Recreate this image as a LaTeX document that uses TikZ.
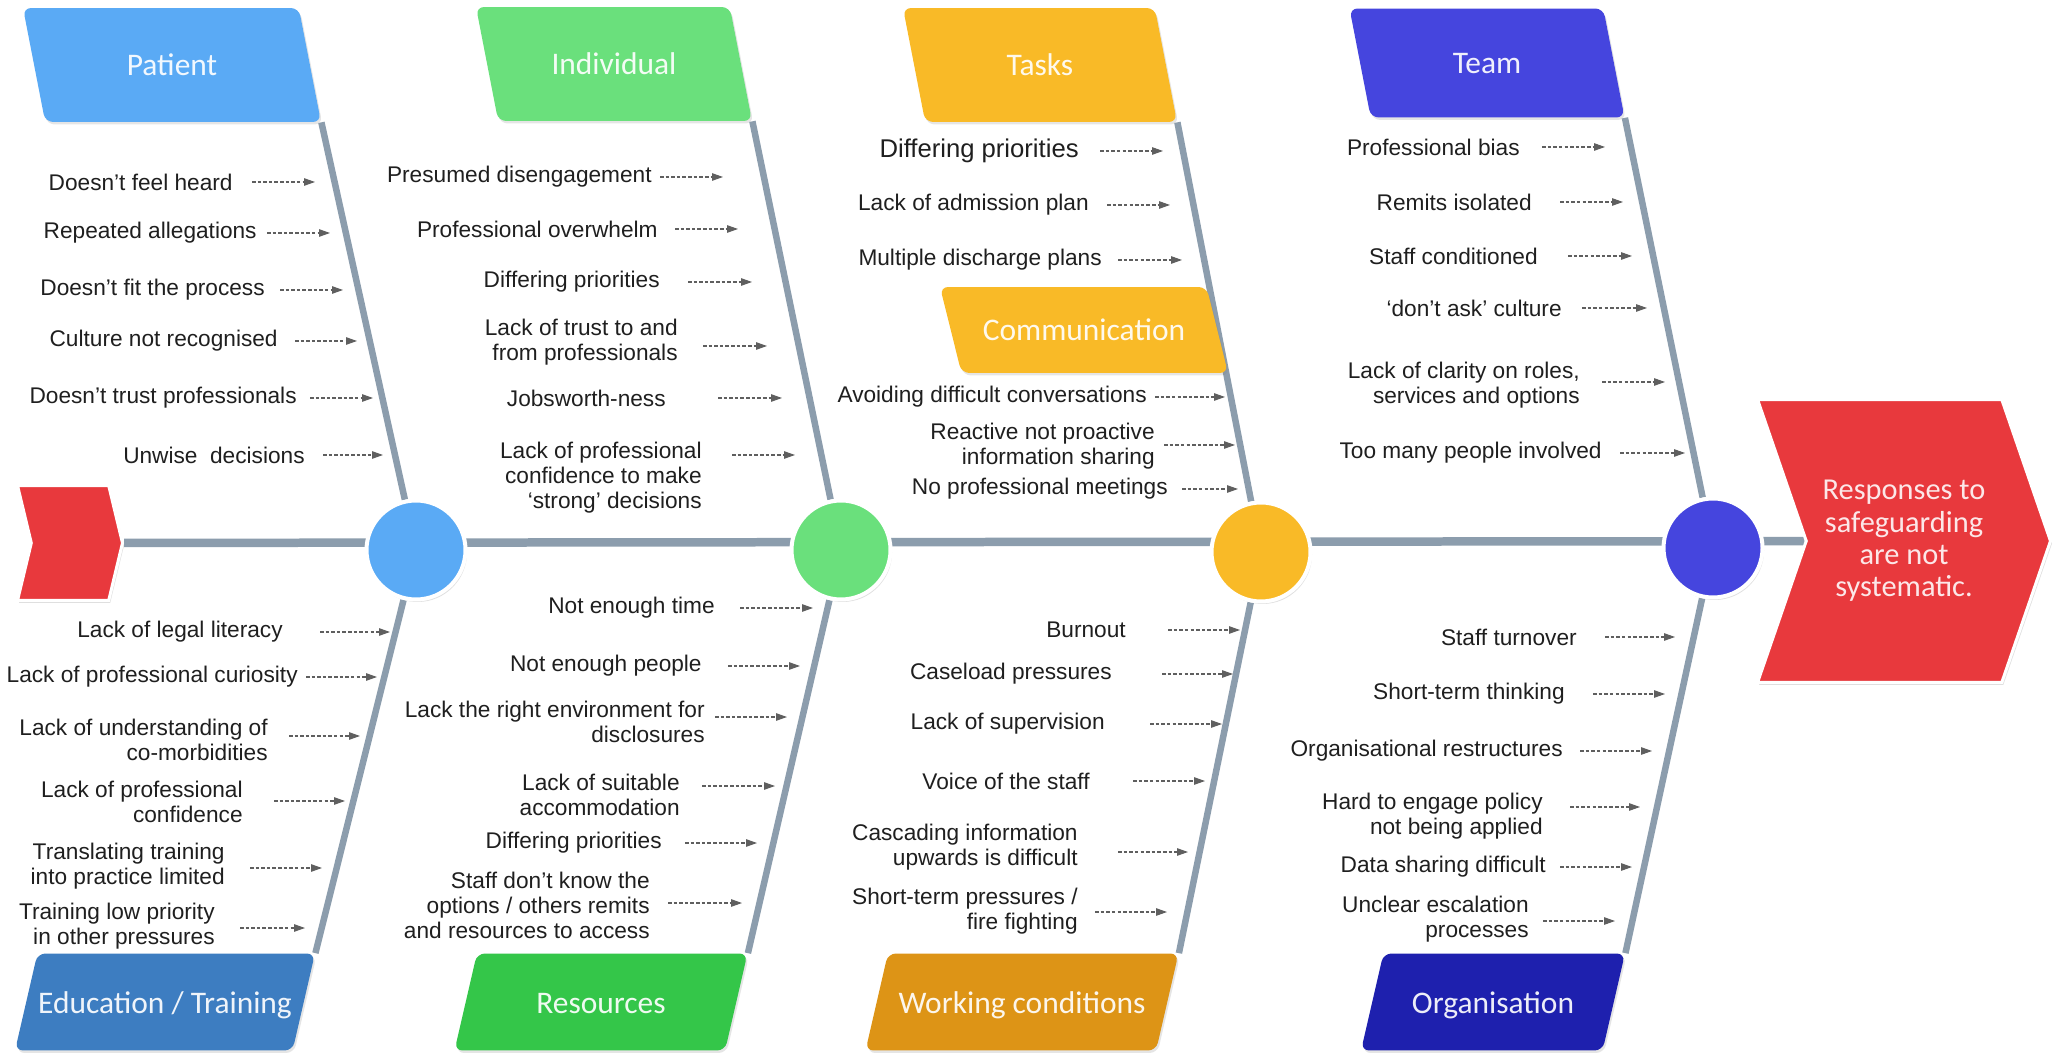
\documentclass[tikz,border=0pt]{standalone}
\usepackage{fontspec}
\setmainfont{Liberation Sans}
\newfontfamily\titlefont{Carlito}
\usetikzlibrary{arrows.meta, shapes.geometric, shapes.symbols, shadows}
\definecolor{patblue}{HTML}{5AAAF5}
\definecolor{indgreen}{HTML}{6AE07C}
\definecolor{taskamber}{HTML}{F9BA27}
\definecolor{teamblue}{HTML}{4545DE}
\definecolor{edublue}{HTML}{3D7DC1}
\definecolor{resgreen}{HTML}{34C649}
\definecolor{workorange}{HTML}{DD9416}
\definecolor{orgblue}{HTML}{1E20AE}
\definecolor{chevred}{HTML}{E8393D}
\definecolor{bonegray}{HTML}{8C9DAD}
\definecolor{arrowgray}{HTML}{5F5F5F}
\pgfdeclarelayer{background}
\pgfsetlayers{background,main}

\begin{document}
\begin{tikzpicture}[x=0.02cm, y=-0.02cm,
  every node/.style={font=\fontsize{12.9}{14.2}\selectfont, text=black!88},
  cause/.style={anchor=east, align=right, inner sep=0pt},
  arr/.style={-{Triangle[length=0.22cm, width=0.15cm]}, draw=arrowgray,
              line width=0.6pt, dash pattern=on 2pt off 1.2pt},
  bone/.style={draw=bonegray, line width=0.13cm},
  spine/.style={draw=bonegray, line width=0.17cm},
  cat/.style={trapezium, trapezium stretches body, rounded corners=0.16cm,
              font=\titlefont\fontsize{17.9}{20}\selectfont, text=white,
              text opacity=0.92, inner xsep=0pt, text height=0.56cm, text depth=0.12cm,
              drop shadow={opacity=0.2, shadow xshift=0.03cm, shadow yshift=-0.05cm}},
  topcat/.style={cat, trapezium left angle=101, trapezium right angle=79,
                 inner ysep=0.80cm},
  botcat/.style={cat, trapezium left angle=77, trapezium right angle=103,
                 inner ysep=0.63cm},
  hub/.style={circle, draw=white, line width=0.08cm, minimum size=1.98cm,
              inner sep=0pt, drop shadow={opacity=0.25, shadow xshift=0.03cm, shadow yshift=-0.05cm}},
  chev/.style={signal, signal to=east, signal from=west, fill=chevred,
               draw=white, line width=0.06cm,
               drop shadow={opacity=0.25, shadow xshift=0.03cm, shadow yshift=-0.05cm}}
]
  \useasboundingbox (0,0) rectangle (2058,1053);

  % category boxes
  \node[topcat, fill=patblue, minimum width=5.96cm] (patient) at (172,65) {Patient};
  \node[topcat, fill=indgreen, minimum width=5.52cm] (individual) at (614,64) {Individual};
  \node[topcat, fill=taskamber, minimum width=5.48cm] (tasks) at (1040,65) {Tasks};
  \node[topcat, fill=teamblue, minimum width=5.5cm, inner ysep=0.75cm] (team) at (1487,63) {Team};
  \node[topcat, fill=taskamber, minimum width=5.76cm, inner ysep=0.52cm,
        trapezium left angle=104, trapezium right angle=76] (comms) at (1084,330) {Communication};
  \node[botcat, fill=edublue, minimum width=6cm] (education) at (165,1002) {Education / Training};
  \node[botcat, fill=resgreen, minimum width=5.86cm] (resources) at (601,1002) {Resources};
  \node[botcat, fill=workorange, minimum width=6.26cm] (working) at (1022,1002) {Working conditions};
  \node[botcat, fill=orgblue, minimum width=5.28cm] (organisation) at (1493,1002) {Organisation};

  % hubs on the spine
  \node[hub, fill=patblue] (hpat) at (416,550) {};
  \node[hub, fill=indgreen] (hind) at (841,550) {};
  \node[hub, fill=taskamber] (htask) at (1261,552) {};
  \node[hub, fill=teamblue] (hteam) at (1713,548) {};

  % tail and head
  \node[chev, minimum width=2.1cm, minimum height=2.3cm, signal pointer angle=153] (tail) at (70,543) {};
  \node[chev, minimum width=5.86cm, minimum height=5.66cm, signal pointer angle=142,
        align=center, font=\titlefont\fontsize{17.3}{18.4}\selectfont, text=white!88!chevred]
        (effect) at (1904,541) {Responses to\\safeguarding\\are not\\systematic.};

  \begin{pgfonlayer}{background}
    \fill[white] (0,0) rectangle (2058,1053);
    \draw[spine] (tail) -- (effect);
    \draw[bone] (patient.bottom right corner) -- (hpat) -- (education.top right corner);
    \draw[bone] (individual.bottom right corner) -- (hind) -- (resources.top right corner);
    \draw[bone] (tasks.bottom right corner) -- (htask) -- (working.top right corner);
    \draw[bone] (team.bottom right corner) -- (hteam) -- (organisation.top right corner);
  \end{pgfonlayer}

  % Patient
  \node[cause] (pa1) at (233,182) {Doesn’t feel heard};
  \node[cause] (pa2) at (257,233) {Repeated allegations};
  \node[cause] (pa3) at (265,290) {Doesn’t fit the process};
  \node[cause] (pa4) at (278,341) {Culture not recognised};
  \node[cause] (pa5) at (297,398) {Doesn’t trust professionals};
  \node[cause] (pa6) at (305,455) {Unwise\ \ decisions};
  \coordinate (pa1t) at (315,182);
  \coordinate (pa2t) at (330,233);
  \coordinate (pa3t) at (343,290);
  \coordinate (pa4t) at (357,341);
  \coordinate (pa5t) at (373,398);
  \coordinate (pa6t) at (383,455);
  \draw[arr] (pa1.east |- pa1t) ++(19,0) -- (pa1t);
  \draw[arr] (pa2.east |- pa2t) ++(10,0) -- (pa2t);
  \draw[arr] (pa3.east |- pa3t) ++(15,0) -- (pa3t);
  \draw[arr] (pa4.east |- pa4t) ++(17,0) -- (pa4t);
  \draw[arr] (pa5.east |- pa5t) ++(13,0) -- (pa5t);
  \draw[arr] (pa6.east |- pa6t) ++(18,0) -- (pa6t);

  % Individual
  \node[cause] (in1) at (652,177) {Presumed disengagement};
  \node[cause] (in2) at (658,229) {Professional overwhelm};
  \node[cause] (in3) at (660,282) {Differing priorities};
  \node[cause] (in4) at (678,342) {Lack of trust to and\\from professionals};
  \node[cause] (in5) at (666,398) {Jobsworth-ness};
  \node[cause] (in6) at (702,478) {Lack of professional\\confidence to make\\‘strong’ decisions};
  \coordinate (in1t) at (723,177);
  \coordinate (in2t) at (738,229);
  \coordinate (in3t) at (752,282);
  \coordinate (in4t) at (767,346);
  \coordinate (in5t) at (782,398);
  \coordinate (in6t) at (795,455);
  \draw[arr] (in1.east |- in1t) ++(8,0) -- (in1t);
  \draw[arr] (in2.east |- in2t) ++(17,0) -- (in2t);
  \draw[arr] (in3.east |- in3t) ++(28,0) -- (in3t);
  \draw[arr] (in4.east |- in4t) ++(25,0) -- (in4t);
  \draw[arr] (in5.east |- in5t) ++(52,0) -- (in5t);
  \draw[arr] (in6.east |- in6t) ++(30,0) -- (in6t);

  % Tasks and Communication
  \node[cause, font=\fontsize{14.6}{16}\selectfont] (ta1) at (1079,151) {Differing priorities};
  \node[cause] (ta2) at (1089,205) {Lack of admission plan};
  \node[cause] (ta3) at (1102,260) {Multiple discharge plans};
  \node[cause] (co1) at (1147,397) {Avoiding difficult conversations};
  \node[cause] (co2) at (1155,446) {Reactive not proactive\\information sharing};
  \node[cause] (co3) at (1168,489) {No professional meetings};
  \coordinate (ta1t) at (1163,151);
  \coordinate (ta2t) at (1170,205);
  \coordinate (ta3t) at (1182,260);
  \coordinate (co1t) at (1225,397);
  \coordinate (co2t) at (1235,445);
  \coordinate (co3t) at (1238,489);
  \draw[arr] (ta1.east |- ta1t) ++(21,0) -- (ta1t);
  \draw[arr] (ta2.east |- ta2t) ++(18,0) -- (ta2t);
  \draw[arr] (ta3.east |- ta3t) ++(16,0) -- (ta3t);
  \draw[arr] (co1.east |- co1t) ++(8,0) -- (co1t);
  \draw[arr] (co2.east |- co2t) ++(9,0) -- (co2t);
  \draw[arr] (co3.east |- co3t) ++(14,0) -- (co3t);

  % Team
  \node[cause] (te1) at (1520,147) {Professional bias};
  \node[cause] (te2) at (1532,202) {Remits isolated};
  \node[cause] (te3) at (1538,256) {Staff conditioned};
  \node[cause] (te4) at (1562,308) {‘don’t ask’ culture};
  \node[cause] (te5) at (1580,385) {Lack of clarity on roles,\\services and options};
  \node[cause] (te6) at (1602,453) {Too many people involved};
  \coordinate (te1t) at (1605,147);
  \coordinate (te2t) at (1623,202);
  \coordinate (te3t) at (1632,256);
  \coordinate (te4t) at (1647,308);
  \coordinate (te5t) at (1665,382);
  \coordinate (te6t) at (1685,453);
  \draw[arr] (te1.east |- te1t) ++(22,0) -- (te1t);
  \draw[arr] (te2.east |- te2t) ++(28,0) -- (te2t);
  \draw[arr] (te3.east |- te3t) ++(30,0) -- (te3t);
  \draw[arr] (te4.east |- te4t) ++(20,0) -- (te4t);
  \draw[arr] (te5.east |- te5t) ++(22,0) -- (te5t);
  \draw[arr] (te6.east |- te6t) ++(18,0) -- (te6t);

  % Education / Training
  \node[cause] (ed1) at (283,632) {Lack of legal literacy};
  \node[cause] (ed2) at (298,677) {Lack of professional curiosity};
  \node[cause] (ed3) at (268,740) {Lack of understanding of\\co-morbidities};
  \node[cause] (ed4) at (243,802) {Lack of professional\\confidence};
  \node[cause] (ed5) at (225,866) {Translating training\\into practice limited};
  \node[cause] (ed6) at (215,926) {Training low priority\\in other pressures};
  \coordinate (ed1t) at (390,632);
  \coordinate (ed2t) at (377,677);
  \coordinate (ed3t) at (360,736);
  \coordinate (ed4t) at (345,801);
  \coordinate (ed5t) at (322,868);
  \coordinate (ed6t) at (305,928);
  \draw[arr] (ed1.east |- ed1t) ++(37,0) -- (ed1t);
  \draw[arr] (ed2.east |- ed2t) ++(8,0) -- (ed2t);
  \draw[arr] (ed3.east |- ed3t) ++(21,0) -- (ed3t);
  \draw[arr] (ed4.east |- ed4t) ++(31,0) -- (ed4t);
  \draw[arr] (ed5.east |- ed5t) ++(25,0) -- (ed5t);
  \draw[arr] (ed6.east |- ed6t) ++(25,0) -- (ed6t);

  % Resources
  \node[cause] (re1) at (715,608) {Not enough time};
  \node[cause] (re2) at (702,666) {Not enough people};
  \node[cause] (re3) at (705,722) {Lack the right environment for\\disclosures};
  \node[cause] (re4) at (680,795) {Lack of suitable\\accommodation};
  \node[cause] (re5) at (662,843) {Differing priorities};
  \node[cause] (re6) at (650,905) {Staff don’t know the\\options / others remits\\and resources to access};
  \coordinate (re1t) at (813,608);
  \coordinate (re2t) at (800,666);
  \coordinate (re3t) at (787,717);
  \coordinate (re4t) at (775,786);
  \coordinate (re5t) at (757,843);
  \coordinate (re6t) at (742,903);
  \draw[arr] (re1.east |- re1t) ++(25,0) -- (re1t);
  \draw[arr] (re2.east |- re2t) ++(26,0) -- (re2t);
  \draw[arr] (re3.east |- re3t) ++(10,0) -- (re3t);
  \draw[arr] (re4.east |- re4t) ++(22,0) -- (re4t);
  \draw[arr] (re5.east |- re5t) ++(23,0) -- (re5t);
  \draw[arr] (re6.east |- re6t) ++(18,0) -- (re6t);

  % Working conditions
  \node[cause] (wc1) at (1126,630) {Burnout};
  \node[cause] (wc2) at (1112,674) {Caseload pressures};
  \node[cause] (wc3) at (1105,724) {Lack of supervision};
  \node[cause] (wc4) at (1090,781) {Voice of the staff};
  \node[cause] (wc5) at (1078,847) {Cascading information\\upwards is difficult};
  \node[cause] (wc6) at (1078,911) {Short-term pressures /\\fire fighting};
  \coordinate (wc1t) at (1240,630);
  \coordinate (wc2t) at (1233,674);
  \coordinate (wc3t) at (1222,724);
  \coordinate (wc4t) at (1205,781);
  \coordinate (wc5t) at (1188,852);
  \coordinate (wc6t) at (1167,912);
  \draw[arr] (wc1.east |- wc1t) ++(42,0) -- (wc1t);
  \draw[arr] (wc2.east |- wc2t) ++(50,0) -- (wc2t);
  \draw[arr] (wc3.east |- wc3t) ++(45,0) -- (wc3t);
  \draw[arr] (wc4.east |- wc4t) ++(43,0) -- (wc4t);
  \draw[arr] (wc5.east |- wc5t) ++(40,0) -- (wc5t);
  \draw[arr] (wc6.east |- wc6t) ++(17,0) -- (wc6t);

  % Organisation
  \node[cause] (og1) at (1577,637) {Staff turnover};
  \node[cause] (og2) at (1565,694) {Short-term thinking};
  \node[cause] (og3) at (1563,751) {Organisational restructures};
  \node[cause] (og4) at (1543,816) {Hard to engage policy\\not being applied};
  \node[cause] (og5) at (1546,867) {Data sharing difficult};
  \node[cause] (og6) at (1529,919) {Unclear escalation\\processes};
  \coordinate (og1t) at (1675,637);
  \coordinate (og2t) at (1665,694);
  \coordinate (og3t) at (1652,751);
  \coordinate (og4t) at (1640,807);
  \coordinate (og5t) at (1632,867);
  \coordinate (og6t) at (1615,921);
  \draw[arr] (og1.east |- og1t) ++(28,0) -- (og1t);
  \draw[arr] (og2.east |- og2t) ++(28,0) -- (og2t);
  \draw[arr] (og3.east |- og3t) ++(17,0) -- (og3t);
  \draw[arr] (og4.east |- og4t) ++(27,0) -- (og4t);
  \draw[arr] (og5.east |- og5t) ++(14,0) -- (og5t);
  \draw[arr] (og6.east |- og6t) ++(14,0) -- (og6t);
\end{tikzpicture}
\end{document}
